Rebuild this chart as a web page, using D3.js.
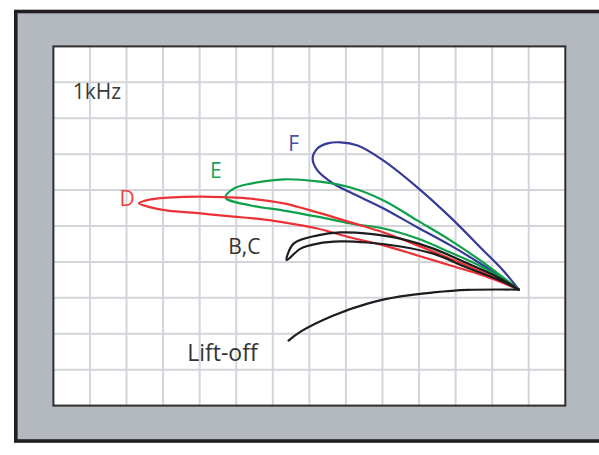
<!DOCTYPE html>
<html>
<head>
<meta charset="utf-8">
<script src="https://cdn.jsdelivr.net/npm/d3@7/dist/d3.min.js"></script>
<style>
  html, body { margin: 0; padding: 0; background: #ffffff; }
  svg { display: block; }
  text { font-family: "Open Sans", "Noto Sans", sans-serif; font-weight: 400; }
</style>
</head>
<body>
<svg id="chart" width="599" height="455"></svg>
<script>
// Impedance-plane traces at 1 kHz, in screen-grid units (14 x 10 divisions, y up).
const gridColumns = 14;
const gridRows = 10;

// Lift-off trace: from the probe lifted off, to the balance point.
const liftOff = [
  [6.43, 1.81], [6.76, 2.06], [7.66, 2.51], [8.59, 2.84], [9.49, 3.04],
  [10.39, 3.15], [11.32, 3.22], [12.73, 3.23]
];

// Flaw loops: start at the balance point, out along one branch, back along the other.
const curveBC = [
  [12.73, 3.23], [12.22, 3.54], [11.32, 3.96], [10.39, 4.37], [9.49, 4.65],
  [8.59, 4.79], [7.85, 4.82], [7.23, 4.74], [6.57, 4.51], [6.38, 4.05],
  [6.76, 4.37], [7.23, 4.51], [7.85, 4.57], [8.59, 4.54], [9.49, 4.43],
  [10.39, 4.23], [11.32, 3.84], [12.22, 3.48], [12.73, 3.23]
];

const curveD = [
  [12.73, 3.23], [11.76, 3.70], [10.86, 4.09], [9.96, 4.46], [9.03, 4.82],
  [8.13, 5.10], [7.22, 5.38], [6.30, 5.63], [5.40, 5.76], [4.71, 5.80],
  [4.03, 5.82], [3.13, 5.79], [2.66, 5.74], [2.34, 5.63],
  [2.66, 5.52], [3.13, 5.43], [4.03, 5.35], [4.93, 5.26], [5.40, 5.22],
  [6.30, 5.10], [7.22, 4.93], [8.13, 4.68], [9.03, 4.46], [9.96, 4.18],
  [10.86, 3.90], [11.76, 3.62], [12.73, 3.23]
];

const curveE = [
  [12.73, 3.23], [11.76, 3.98], [10.86, 4.60], [9.96, 5.15], [9.03, 5.71],
  [8.13, 6.07], [7.22, 6.24], [6.30, 6.30], [5.40, 6.18], [4.93, 6.04],
  [4.71, 5.79],
  [5.40, 5.57], [6.30, 5.43], [7.22, 5.26], [8.13, 5.07], [9.03, 4.93],
  [9.96, 4.65], [10.86, 4.26], [11.76, 3.84], [12.73, 3.23]
];

const curveF = [
  [12.73, 3.23], [12.30, 3.76], [11.76, 4.32], [10.86, 5.24], [9.96, 6.07],
  [9.03, 6.82], [8.32, 7.24], [7.85, 7.33], [7.50, 7.30], [7.22, 7.16],
  [7.09, 6.88],
  [7.22, 6.55], [7.66, 6.18], [8.13, 5.93], [9.03, 5.49], [9.96, 4.96],
  [10.86, 4.46], [11.76, 3.90], [12.73, 3.23]
];

// Trace labels: text, anchor position (grid units, baseline), colour, size
const labelText  = ["1kHz", "F", "E", "D", "B,C", "Lift-off"];
const labelPos   = [[0.53, 8.53], [6.42, 7.09], [4.28, 6.35], [1.81, 5.55], [4.78, 4.22], [3.66, 1.25]];
const labelColor = ["#3a3a3a", "#4b4f9f", "#1ea358", "#ee3f3c", "#333333", "#333333"];
const labelSize  = [21, 21, 21, 21, 21, 23];

const traces = [
  { pts: curveF,  color: "#363a96" },
  { pts: curveE,  color: "#0ea04b" },
  { pts: curveD,  color: "#ec3237" },
  { pts: curveBC, color: "#1d1d1d" },
  { pts: liftOff, color: "#1d1d1d" }
];

const svg = d3.select("#chart");

// Instrument bezel
svg.append("rect")
  .attr("x", 15.8).attr("y", 11.5)
  .attr("width", 620).attr("height", 429.5)
  .attr("fill", "#b4b8bf")
  .attr("stroke", "#231f20")
  .attr("stroke-width", 3.6);

const x = d3.scaleLinear().domain([0, gridColumns]).range([53.4, 565.3]);
const y = d3.scaleLinear().domain([0, gridRows]).range([405.6, 46.4]);

// Screen
svg.append("rect")
  .attr("x", x(0)).attr("y", y(gridRows))
  .attr("width", x(gridColumns) - x(0))
  .attr("height", y(0) - y(gridRows))
  .attr("fill", "#ffffff");

const grid = svg.append("g");
grid.selectAll("line.v")
  .data(d3.range(1, gridColumns))
  .join("line")
  .attr("class", "v")
  .attr("x1", d => x(d)).attr("x2", d => x(d))
  .attr("y1", y(0)).attr("y2", y(gridRows))
  .attr("stroke", "#d3d5db").attr("stroke-width", 2);
grid.selectAll("line.h")
  .data(d3.range(1, gridRows))
  .join("line")
  .attr("class", "h")
  .attr("y1", d => y(d)).attr("y2", d => y(d))
  .attr("x1", x(0)).attr("x2", x(gridColumns))
  .attr("stroke", "#d3d5db").attr("stroke-width", 2);

svg.append("rect")
  .attr("x", x(0)).attr("y", y(gridRows))
  .attr("width", x(gridColumns) - x(0))
  .attr("height", y(0) - y(gridRows))
  .attr("fill", "none")
  .attr("stroke", "#2e2e2e")
  .attr("stroke-width", 2);

// Traces
const line = d3.line()
  .x(d => x(d[0]))
  .y(d => y(d[1]))
  .curve(d3.curveCatmullRom.alpha(0.5));

svg.append("g")
  .selectAll("path")
  .data(traces)
  .join("path")
  .attr("d", d => line(d.pts))
  .attr("fill", "none")
  .attr("stroke", d => d.color)
  .attr("stroke-width", 2.2)
  .attr("stroke-linejoin", "round")
  .attr("stroke-linecap", "round");

// Labels
svg.append("g")
  .selectAll("text")
  .data(labelText)
  .join("text")
  .attr("x", (d, i) => x(labelPos[i][0]))
  .attr("y", (d, i) => y(labelPos[i][1]))
  .attr("fill", (d, i) => labelColor[i])
  .attr("font-size", (d, i) => labelSize[i])
  .text(d => d);
</script>
</body>
</html>
